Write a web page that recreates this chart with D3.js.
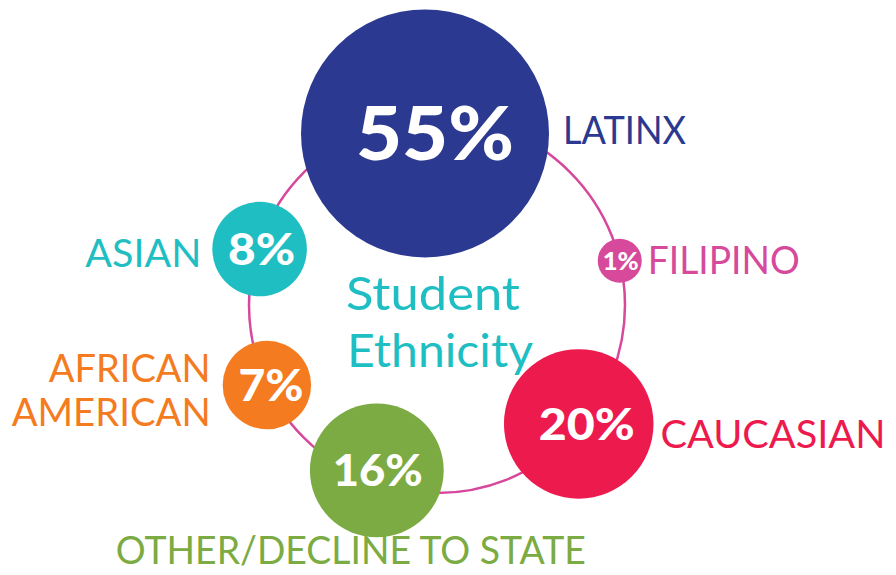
<!DOCTYPE html>
<html>
<head>
<meta charset="utf-8">
<script src="https://cdn.jsdelivr.net/npm/d3@7"></script>
<style>
    html, body { margin: 0; padding: 0; background: #fff; }
    svg { display: block; }
</style>
</head>
<body>
<div id="ethnicity-chart"></div>
<script>
// data
const categories = ["LATINX", "FILIPINO", "CAUCASIAN", "OTHER/DECLINE TO STATE", "AFRICAN AMERICAN", "ASIAN"];
const percents = [55, 1, 20, 16, 7, 8];
const titleLines = ["Student", "Ethnicity"];

// styles
const colors = ["#2b3990", "#d6499b", "#ed1a4e", "#7bab42", "#f47b20", "#1fbec3"];
const ringColor = "#d6489b";
const titleColor = "#1fbec3";

// where each bubble sits on the ring (degrees clockwise from top) and how its label goes
const layout = [
    { angle: -4, dist: 172, side: "right", gap: 14, dy: [11], width: [123], pctSize: 75, pctDx: 10, pctWidth: 158 },
    { angle: 76.4, dist: 188, side: "right", gap: 6, dy: [13], width: [152], pctSize: 25, pctDx: 1, pctWidth: 36 },
    { angle: 130, dist: 185, side: "right", gap: 7, dy: [24], width: [225], pctSize: 44, pctDx: 8, pctWidth: 96 },
    { angle: 200, dist: 176, side: "below", dx: -26, dy: [94], width: [470], pctSize: 44, pctDx: 1, pctWidth: 90 },
    { angle: 244.8, dist: 188, side: "left", gap: 12, dy: [-3, 41], width: [162, 199], split: true, pctSize: 44, pctDx: 4, pctWidth: 65 },
    { angle: 287.5, dist: 186, side: "left", gap: 11, dy: [18], width: [116], pctSize: 44, pctDx: 2, pctWidth: 67 }
];

var vWidth = 896, vHeight = 575;
var vRing = { cx: 437, cy: 305, r: 188 };
var vFont = "Lato, 'Noto Sans', sans-serif";
var vCap = 0.72; // cap height / font size

var svg = d3.select("#ethnicity-chart")
    .append("svg")
    .attr("width", vWidth)
    .attr("height", vHeight);

// bubble size from the share
let vRadius = d3.scaleSqrt()
    .domain([0, d3.max(percents)])
    .range([0, 124]);

let vData = categories.map(function (aName, i) {
    let vL = layout[i];
    let vA = vL.angle * Math.PI / 180;
    return {
        name: aName,
        value: percents[i],
        color: colors[i],
        lay: vL,
        x: vRing.cx + vL.dist * Math.sin(vA),
        y: vRing.cy - vL.dist * Math.cos(vA),
        r: Math.max(22, vRadius(percents[i]))
    };
});

// the ring
svg.append("circle")
    .attr("cx", vRing.cx)
    .attr("cy", vRing.cy)
    .attr("r", vRing.r)
    .attr("fill", "none")
    .attr("stroke", ringColor)
    .attr("stroke-width", 2.5);

// title in the middle
svg.selectAll(".title")
    .data(titleLines)
    .enter()
    .append("text")
    .attr("class", "title")
    .attr("x", function (d, i) { return i == 0 ? 433 : 440; })
    .attr("y", function (d, i) { return i == 0 ? 310 : 367; })
    .attr("text-anchor", "middle")
    .attr("font-family", vFont)
    .attr("font-size", 47)
    .attr("fill", titleColor)
    .attr("textLength", function (d, i) { return i == 0 ? 174 : 186; })
    .attr("lengthAdjust", "spacingAndGlyphs")
    .text(function (d) { return d; });

var vBubbles = svg.selectAll(".bubble")
    .data(vData)
    .enter()
    .append("g")
    .attr("class", "bubble");

vBubbles.append("circle")
    .attr("cx", function (d) { return d.x; })
    .attr("cy", function (d) { return d.y; })
    .attr("r", function (d) { return d.r; })
    .attr("fill", function (d) { return d.color; });

vBubbles.append("text")
    .attr("x", function (d) { return d.x + d.lay.pctDx; })
    .attr("y", function (d) { return d.y + d.lay.pctSize * vCap / 2; })
    .attr("text-anchor", "middle")
    .attr("font-family", vFont)
    .attr("font-weight", 900)
    .attr("font-size", function (d) { return d.lay.pctSize; })
    .attr("fill", "#fff")
    .attr("textLength", function (d) { return d.lay.pctWidth; })
    .attr("lengthAdjust", "spacingAndGlyphs")
    .text(function (d) { return d.value + "%"; });

// category labels
vBubbles.each(function (d) {
    let vL = d.lay;
    let vLines = vL.split ? d.name.split(" ") : [d.name];
    let vX, vAnchor;
    if (vL.side == "right") { vX = d.x + d.r + vL.gap; vAnchor = "start"; }
    else if (vL.side == "left") { vX = d.x - d.r - vL.gap; vAnchor = "end"; }
    else { vX = d.x + vL.dx; vAnchor = "middle"; }

    d3.select(this).selectAll(".label")
        .data(vLines)
        .enter()
        .append("text")
        .attr("class", "label")
        .attr("x", vX)
        .attr("y", function (t, i) { return d.y + vL.dy[i]; })
        .attr("text-anchor", vAnchor)
        .attr("font-family", vFont)
        .attr("font-size", 39)
        .attr("fill", d.color)
        .attr("textLength", function (t, i) { return vL.width[i]; })
        .attr("lengthAdjust", "spacingAndGlyphs")
        .text(function (t) { return t; });
});
</script>
</body>
</html>
